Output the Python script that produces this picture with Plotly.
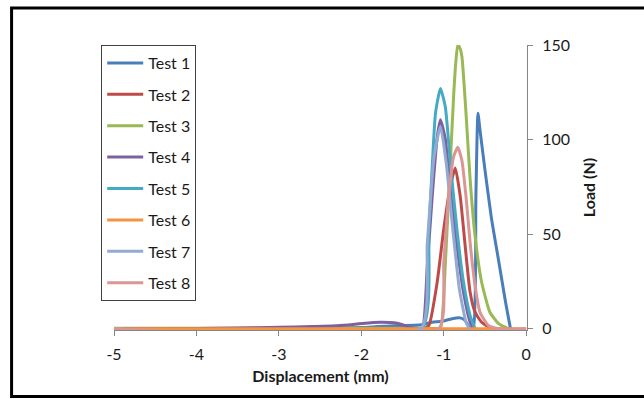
import plotly.graph_objects as go

# ---- data ----
names = ["Test 1", "Test 2", "Test 3", "Test 4", "Test 5", "Test 6", "Test 7", "Test 8"]
colors = ["#4A7EBB", "#BE4B48", "#98B954", "#7D60A0", "#46AAC5", "#F69240", "#93ABD3", "#D99694"]

x1 = [-5.0, -4.0, -3.0, -2.5, -2.0, -1.8, -1.6, -1.5, -1.3, -1.14, -1.02, -0.90, -0.80, -0.74, -0.70, -0.68,
      -0.64, -0.61, -0.585, -0.56, -0.50, -0.42, -0.33, -0.25, -0.19]
y1 = [0.1, 0.2, 0.3, 0.4, 0.7, 1.2, 1.6, 1.7, 2.0, 3.5, 4.0, 5.4, 5.8, 4.4, 1.5, 0.3,
      1.0, 70, 114, 105, 84, 58, 35, 14, 0]

x2 = [-5.0, -1.25, -1.18, -1.08, -1.0, -0.92, -0.86, -0.80, -0.74, -0.68, -0.62, -0.54, -0.42, -0.30]
y2 = [0, 0, 1.8, 24.6, 52.6, 75.4, 85, 70, 43.9, 19.3, 8.8, 3.5, 0, 0]

x3 = [-5.0, -2.0, -1.1, -1.04, -0.98, -0.93, -0.88, -0.855, -0.83, -0.805, -0.78, -0.73, -0.68, -0.62,
      -0.54, -0.44, -0.33, -0.21]
y3 = [0.3, 0.3, 0.2, 0, 35, 79, 123, 140, 150, 148.5, 144, 114, 79, 49, 24.6, 8.8, 2.6, 0]

x4 = [-5.0, -4.0, -3.5, -3.0, -2.6, -2.3, -2.1, -1.95, -1.85, -1.75, -1.6, -1.5, -1.42, -1.35, -1.26,
      -1.20, -1.14, -1.08, -1.04, -0.98, -0.92, -0.84, -0.76, -0.68, -0.64]
y4 = [0, 0.2, 0.5, 0.8, 1.2, 1.6, 2.3, 3.0, 3.4, 3.5, 3.2, 2.2, 0.8, 0.2, 0,
      33, 70, 101, 110.5, 100, 73.7, 43.9, 19.3, 3.5, 0]

x5 = [-5.0, -1.27, -1.18, -1.10, -1.04, -0.98, -0.92, -0.84, -0.76, -0.68, -0.62]
y5 = [0, 0, 52.6, 114, 127, 117, 87.7, 52.6, 24.6, 7, 0]

x6 = [-5.0, 0.0]
y6 = [0, 0]

x7 = [-5.0, -1.28, -1.20, -1.12, -1.04, -0.97, -0.89, -0.81, -0.73, -0.69]
y7 = [0, 0, 45, 90, 107, 87.7, 52.6, 21, 3.5, 0]

x8 = [-5.0, -1.06, -1.0, -0.94, -0.88, -0.83, -0.78, -0.73, -0.68, -0.62, -0.56, -0.46, -0.33, 0.0]
y8 = [0, 0, 35, 70, 91, 96, 89, 70, 45.6, 22.8, 8.8, 1.8, 0, 0]

xs = [x1, x2, x3, x4, x5, x6, x7, x8]
ys = [y1, y2, y3, y4, y5, y6, y7, y8]

x_ticks = [-5, -4, -3, -2, -1, 0]
y_ticks = [0, 50, 100, 150]

FONT = "Lato"
TXT = "#1a1a1a"
AX = "#868686"

fig = go.Figure()
for i, (n, c, x, y) in enumerate(zip(names, colors, xs, ys)):
    fig.add_trace(go.Scatter(
        x=x, y=y, name=n, mode="lines", legendgroup=f"g{i}",
        line=dict(color=c, width=3, shape="spline", smoothing=0.5),
    ))

fig.update_layout(
    width=644, height=399,
    margin=dict(l=114, r=117, t=45, b=69),
    paper_bgcolor="white", plot_bgcolor="white",
    font=dict(family=FONT, size=16, color=TXT),
    showlegend=True,
    legend=dict(
        x=-0.031, y=1.0, xanchor="left", yanchor="top",
        bgcolor="white", bordercolor="#404040", borderwidth=1,
        font=dict(family=FONT, size=16, color=TXT),
        tracegroupgap=7.6, itemwidth=36,
    ),
    xaxis=dict(
        range=[-5, 0.01], tickvals=x_ticks, ticktext=[str(v) for v in x_ticks],
        showline=True, linecolor=AX, linewidth=1, mirror=False,
        ticks="outside", ticklen=5, tickcolor=AX, showgrid=False, zeroline=False,
        layer="below traces", ticklabelstandoff=5,
        title=dict(text="<b>Displacement (mm)</b>", font=dict(family=FONT, size=16, color=TXT), standoff=8),
    ),
    yaxis=dict(
        range=[-0.6, 150], tickvals=y_ticks, side="right",
        showline=True, linecolor=AX, linewidth=1,
        ticks="outside", ticklen=5, tickcolor=AX, showgrid=False, zeroline=False,
        layer="below traces", ticklabelstandoff=6,
        title=dict(text="<b>Load (N)</b>", font=dict(family=FONT, size=16, color=TXT), standoff=14),
    ),
    shapes=[dict(
        type="rect", xref="paper", yref="paper",
        x0=-0.248, x1=1.30, y0=-0.233, y1=1.13,
        line=dict(color="black", width=3), fillcolor="rgba(0,0,0,0)", layer="above",
    )],
)

fig.write_html("out.html")
